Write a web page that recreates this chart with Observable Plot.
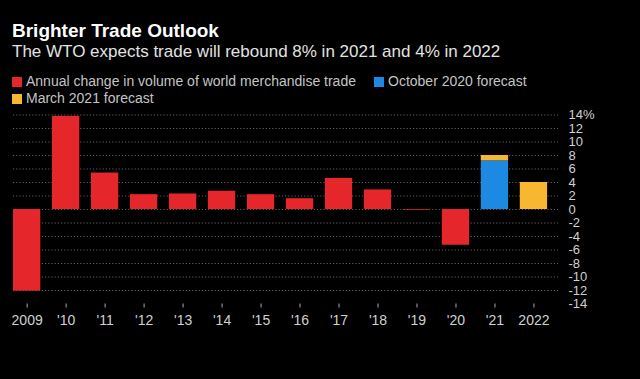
<!DOCTYPE html>
<html>
<head>
<meta charset="utf-8">
<script src="https://cdn.jsdelivr.net/npm/d3@7"></script>
<script src="https://cdn.jsdelivr.net/npm/@observablehq/plot@0.6"></script>
<style>
  html, body { margin: 0; padding: 0; background: #000; }
  body { width: 640px; height: 379px; overflow: hidden; font-family: "Liberation Sans", Arial, sans-serif; }
  #header { position: relative; height: 100px; }
  #header div { position: absolute; white-space: nowrap; }
  .title { left: 12px; top: 21px; font-size: 19px; line-height: 19px; font-weight: bold; color: #fff; }
  .subtitle { left: 12px; top: 43px; font-size: 17px; line-height: 17px; color: #e2e2e2; }
  .leg { font-size: 14px; line-height: 14px; color: #c4c4c4; }
  .sw { display: inline-block; width: 10px; height: 10px; margin-right: 4px; vertical-align: -1px; }
  #chart svg { overflow: visible; }
</style>
</head>
<body>
<div id="header"></div>
<div id="chart"></div>
<script>
const labels = ["2009", "'10", "'11", "'12", "'13", "'14", "'15", "'16", "'17", "'18", "'19", "'20", "'21", "2022"];
const actual = [-12.1, 13.8, 5.4, 2.2, 2.3, 2.7, 2.2, 1.6, 4.6, 2.9, -0.1, -5.3, null, null];
const oct2020 = [null, null, null, null, null, null, null, null, null, null, null, null, 7.2, null];
const mar2021 = [null, null, null, null, null, null, null, null, null, null, null, null, 8.0, 4.0];
const seriesNames = ["Annual change in volume of world merchandise trade", "October 2020 forecast", "March 2021 forecast"];
const colors = ["#e5262b", "#1c8ae2", "#f7b731"];
const yTicks = [-14, -12, -10, -8, -6, -4, -2, 0, 2, 4, 6, 8, 10, 12, 14];
const gridTicks = [-12, -10, -8, -6, -4, -2, 0, 2, 4, 6, 8, 10, 12, 14];

const header = document.getElementById("header");
header.innerHTML = `
  <div class="title">Brighter Trade Outlook</div>
  <div class="subtitle">The WTO expects trade will rebound 8% in 2021 and 4% in 2022</div>
  <div class="leg" style="left:12px; top:74px"><span class="sw" style="background:${colors[0]}"></span>${seriesNames[0]}</div>
  <div class="leg" style="left:374px; top:74px"><span class="sw" style="background:${colors[1]}"></span>${seriesNames[1]}</div>
  <div class="leg" style="left:12px; top:91px"><span class="sw" style="background:${colors[2]}"></span>${seriesNames[2]}</div>
`;

const rows = [];
labels.forEach((l, i) => {
  if (actual[i] != null) rows.push({label: l, s: 0, y1: 0, y2: actual[i]});
  if (oct2020[i] != null) rows.push({label: l, s: 1, y1: 0, y2: oct2020[i]});
  if (mar2021[i] != null) rows.push({label: l, s: 2, y1: oct2020[i] != null ? oct2020[i] : 0, y2: mar2021[i]});
});

const plot = Plot.plot({
  width: 640,
  height: 279,
  marginLeft: 13,
  marginRight: 82,
  marginTop: 14.5,
  marginBottom: 75.5,
  style: { background: "#000", color: "#c8c8c8", fontFamily: "'Liberation Sans', Arial, sans-serif", overflow: "visible" },
  x: { type: "band", domain: labels, paddingInner: 0.3, paddingOuter: 0.14, align: 0, round: false, label: null },
  y: { domain: [-14, 14], label: null },
  marks: [
    Plot.gridY(gridTicks, { stroke: "#8a8a8a", strokeOpacity: 0.7, strokeDasharray: "1.2,2" }),
    Plot.barY(rows, { x: "label", y1: "y1", y2: "y2", fill: d => colors[d.s] }),
    Plot.axisX({ tickSize: 4, tickPadding: 7.5, fontSize: 14, stroke: "#aaa", color: "#d0d0d0", label: null }),
    Plot.axisY(yTicks, { anchor: "right", tickSize: 0, tickPadding: 10, fontSize: 13, color: "#d0d0d0", label: null, tickFormat: d => d === 14 ? "14%" : String(d) })
  ]
});
document.getElementById("chart").appendChild(plot);
</script>
</body>
</html>
